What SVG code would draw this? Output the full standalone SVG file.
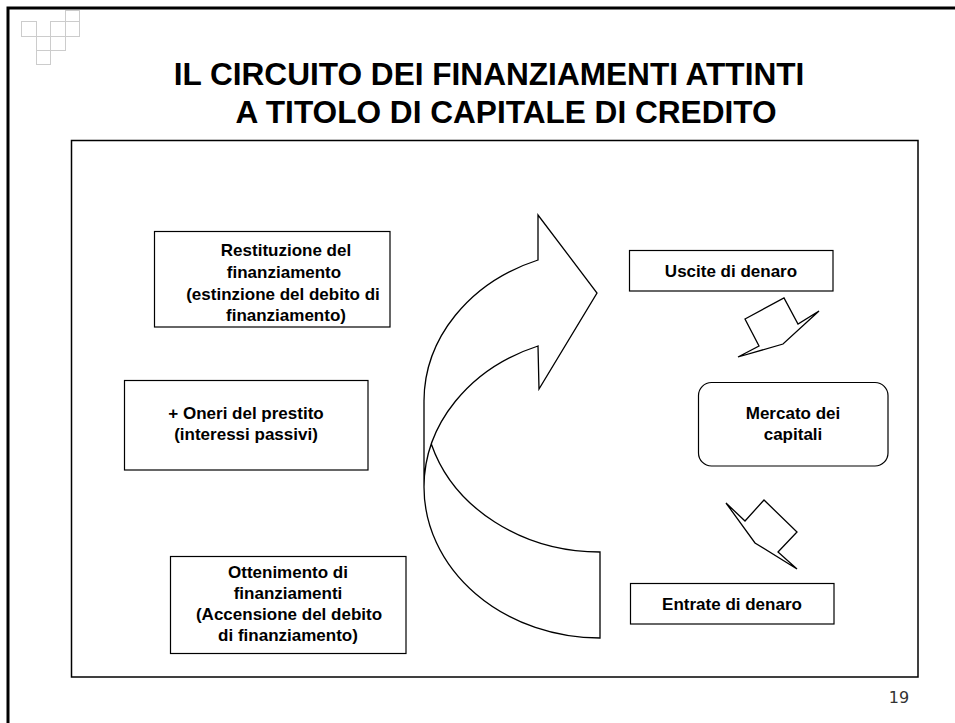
<svg xmlns="http://www.w3.org/2000/svg" width="955" height="723" viewBox="0 0 955 723">
<style>
  .box { fill: #ffffff; stroke: #000000; stroke-width: 1.2; }
  .lbl { font-family: "Liberation Sans", Arial, sans-serif; font-weight: bold; font-size: 17px; fill: #000000; text-anchor: middle; }
  .title { font-family: "Liberation Sans", Arial, sans-serif; font-weight: bold; font-size: 31.6px; fill: #000000; text-anchor: middle; }
  .deco { fill: none; stroke: #cccccc; stroke-width: 1; }
  .arrow { fill: #ffffff; stroke: #000000; stroke-width: 1.3; stroke-linejoin: miter; }
</style>
<rect x="0" y="0" width="955" height="723" fill="#ffffff"/>
<rect x="8" y="8" width="960" height="730" fill="none" stroke="#000000" stroke-width="3"/>
<g id="corner-decoration">
  <rect class="deco" x="21.5" y="21.5" width="15" height="15"/>
  <rect class="deco" x="36.5" y="36.5" width="14" height="14"/>
  <rect class="deco" x="36.5" y="50.5" width="14" height="14"/>
  <rect class="deco" x="50.5" y="21.5" width="15" height="15"/>
  <rect class="deco" x="50.5" y="36.5" width="15" height="14"/>
  <rect class="deco" x="65.5" y="10.5" width="14" height="11"/>
  <rect class="deco" x="65.5" y="21.5" width="14" height="15"/>
</g>
<g id="title">
  <text class="title" x="489" y="85">IL CIRCUITO DEI FINANZIAMENTI ATTINTI</text>
  <text class="title" x="506" y="123">A TITOLO DI CAPITALE DI CREDITO</text>
</g>
<rect id="frame" x="71.5" y="140.5" width="846.5" height="536.5" fill="none" stroke="#000000" stroke-width="1.5"/>
<g id="connectors">
  <path id="curved-arrow" class="arrow" stroke-width="1.1" d="M424,487 A176,151 0 0,1 538,346 L539,389 L597,293 L538,215 L538,260 A176,151 0 0,0 424,401 L424,487 A176,151 0 0,0 600,638 L600,552 A176,151 0 0,1 431.3,444"/>
  <polygon id="arrow-out" class="arrow" points="745,319 784,298 798,324 819,311 783,344 738,357 759,346"/>
  <polygon id="arrow-in" class="arrow" points="726,503 745,521 764,500 797,532 778,552 797,569 755,543"/>
</g>
<g id="node-restituzione">
  <rect class="box" x="154.5" y="231.5" width="235.5" height="95.5"/>
  <text class="lbl" x="286" y="256">Restituzione del</text>
  <text class="lbl" x="284" y="278">finanziamento</text>
  <text class="lbl" x="283" y="300">(estinzione del debito di</text>
  <text class="lbl" x="286" y="321">finanziamento)</text>
</g>
<g id="node-oneri">
  <rect class="box" x="124.5" y="380.5" width="243.5" height="89.5"/>
  <text class="lbl" x="246" y="419">+ Oneri del prestito</text>
  <text class="lbl" x="246" y="440">(interessi passivi)</text>
</g>
<g id="node-ottenimento">
  <rect class="box" x="170.5" y="556.5" width="235.5" height="97"/>
  <text class="lbl" x="288" y="578">Ottenimento di</text>
  <text class="lbl" x="288" y="599">finanziamenti</text>
  <text class="lbl" x="289" y="620">(Accensione del debito</text>
  <text class="lbl" x="288" y="641">di finanziamento)</text>
</g>
<g id="node-uscite">
  <rect class="box" x="629.5" y="250.5" width="203.5" height="40.5"/>
  <text class="lbl" x="731" y="277">Uscite di denaro</text>
</g>
<g id="node-mercato">
  <rect class="box" x="698.5" y="382.5" width="189.5" height="83.5" rx="13" ry="13"/>
  <text class="lbl" x="793" y="419">Mercato dei</text>
  <text class="lbl" x="793" y="440">capitali</text>
</g>
<g id="node-entrate">
  <rect class="box" x="630.5" y="583.5" width="203.5" height="40.5"/>
  <text class="lbl" x="732" y="610">Entrate di denaro</text>
</g>
<text x="899" y="703" font-family="DejaVu Sans, sans-serif" font-size="16" fill="#333333" text-anchor="middle">19</text>
</svg>
